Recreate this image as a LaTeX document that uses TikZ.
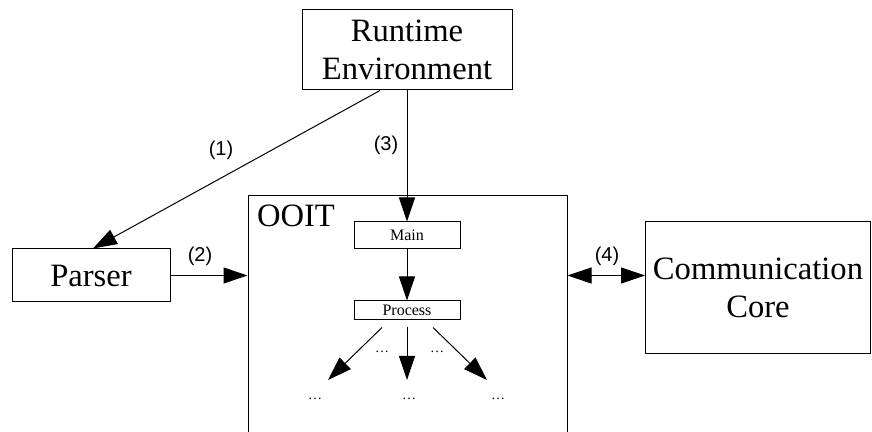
\documentclass[tikz,border=0pt]{standalone}
\usepackage{fontspec}
\setmainfont{Liberation Serif}
\setsansfont{Liberation Sans}
\usetikzlibrary{arrows.meta}

\begin{document}
\begin{tikzpicture}[x=0.5pt,y=0.5pt,line width=0.5pt,>={Triangle[length=12pt,width=8pt]}]
\tikzstyle{every node}+=[inner sep=0pt]
\tikzstyle{bigbox}=[draw,align=center,font=\fontsize{16.3}{19}\selectfont]
\tikzstyle{smallbox}=[draw,minimum width=53pt,font=\fontsize{8}{9}\selectfont]
\tikzstyle{num}=[font=\sffamily\fontsize{10}{11}\selectfont]
\tikzstyle{dots}=[font=\fontsize{7}{8}\selectfont]

\useasboundingbox (0,0) rectangle (872,-432);

\node[bigbox,minimum width=105pt,minimum height=40pt] (runtime) at (407,-50) {Runtime\\Environment};
\node[bigbox,minimum width=79pt,minimum height=26.5pt] (parser) at (91,-275.5) {Parser};
\node[bigbox,minimum width=112.5pt,minimum height=66pt] (comm) at (758,-288) {Communication\\Core};

\node[draw,minimum width=159.5pt,minimum height=122pt] (ooit) at (407.5,-318) {};
\node[font=\fontsize{16.3}{19}\selectfont,anchor=north west,xshift=4.5pt,yshift=-4.5pt] (ooitname) at (ooit.north west) {OOIT};

\node[smallbox,minimum height=13.5pt] (main) at (407,-235.5) {Main};
\node[smallbox,minimum height=9.5pt] (process) at (407,-310.5) {Process};

\coordinate (f1) at (328,-380);
\coordinate (f2) at (407,-380);
\coordinate (f3) at (487,-380);

\node[dots] (d1) at (382,-352) {\ldots};
\node[dots] (d2) at (437,-352) {\ldots};
\node[dots] (d3) at (315,-399) {\ldots};
\node[dots] (d4) at (409,-399) {\ldots};
\node[dots] (d5) at (498,-399) {\ldots};

\draw[->] ([xshift=-13.5pt]runtime.south) -- ([xshift=1pt]parser.north);
\node[num] (l1) at (221,-150) {(1)};
\draw[->] (parser.east) -- (parser.east -| ooit.west);
\node[num] (l2) at (200,-256) {(2)};
\draw[->] (runtime) -- (main);
\node[num] (l3) at (386,-145) {(3)};
\draw[<->] (ooit.east |- parser.east) -- (comm.west |- parser.east);
\node[num] (l4) at (607,-256) {(4)};

\draw[->] (main) -- (process);
\draw[->] ([xshift=-12.5pt,yshift=-3.5pt]process.south) -- (f1);
\draw[->] ([yshift=-3.5pt]process.south) -- (f2);
\draw[->] ([xshift=13pt,yshift=-3.5pt]process.south) -- (f3);
\end{tikzpicture}
\end{document}
